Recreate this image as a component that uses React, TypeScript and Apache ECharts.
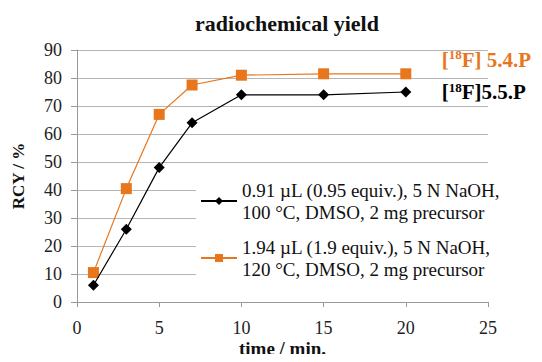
import React, { useEffect, useRef } from "react";
import * as echarts from "echarts";

const times = [1, 3, 5, 7, 10, 15, 20];
const blackValues = [6, 26, 48, 64, 74, 74, 75];
const orangeValues = [10.5, 40.5, 67, 77.5, 81, 81.5, 81.5];
const blackName = "0.91 µL (0.95 equiv.), 5 N NaOH,\n100 °C, DMSO, 2 mg precursor";
const orangeName = "1.94 µL (1.9 equiv.), 5 N NaOH,\n120 °C, DMSO, 2 mg precursor";
const xTicks = [0, 5, 10, 15, 20, 25];
const yTicks = [0, 10, 20, 30, 40, 50, 60, 70, 80, 90];

const FONT = "Liberation Serif, Times New Roman, DejaVu Serif, serif";

export default function App() {
  const ref = useRef<HTMLDivElement>(null);
  useEffect(() => {
    if (!ref.current) return;
    const chart = echarts.init(ref.current, null, { renderer: "svg" });
    const pair = (vals: number[]) => times.map((t, i) => [t, vals[i]]);
    chart.setOption({
      animation: false,
      backgroundColor: "#fff",
      textStyle: { fontFamily: FONT },
      title: {
        text: "radiochemical yield",
        left: 282,
        top: 7,
        textAlign: "center",
        textStyle: { fontFamily: FONT, fontSize: 22, fontWeight: "bold", color: "#111" },
      },
      grid: { left: 77, right: 54, top: 50, bottom: 60, containLabel: false, outerBoundsMode: "none" },
      legend: {
        orient: "vertical",
        left: 196,
        top: 177,
        itemWidth: 36,
        itemHeight: 10,
        itemGap: 13,
        backgroundColor: "#fff",
        padding: [2, 4, 2, 4],
        textStyle: { fontFamily: FONT, fontSize: 19, color: "#111", lineHeight: 22 },
        data: [blackName, orangeName],
      },
      xAxis: {
        type: "value",
        min: 0,
        max: 25,
        interval: 5,
        name: "time / min.",
        nameLocation: "middle",
        nameGap: 37,
        nameMoveOverlap: false,
        nameTextStyle: { fontFamily: FONT, fontSize: 19, fontWeight: "bold", color: "#111" },
        axisLine: { show: true, lineStyle: { color: "#999", width: 1 } },
        axisTick: { show: true, length: 5, inside: false, lineStyle: { color: "#999" } },
        axisLabel: {
          fontFamily: FONT,
          fontSize: 18,
          color: "#222",
          margin: 17,
          formatter: (v: number) => (xTicks.includes(v) ? String(v) : ""),
        },
        splitLine: { show: false },
      },
      yAxis: {
        type: "value",
        min: 0,
        max: 90,
        interval: 10,
        name: "RCY / %",
        nameLocation: "middle",
        nameGap: 50,
        nameMoveOverlap: false,
        nameRotate: 90,
        nameTextStyle: { fontFamily: FONT, fontSize: 17, fontWeight: "bold", color: "#111" },
        axisLine: { show: true, lineStyle: { color: "#999", width: 1 } },
        axisTick: { show: true, length: 6, lineStyle: { color: "#999" } },
        axisLabel: {
          fontFamily: FONT,
          fontSize: 18,
          color: "#222",
          margin: 15,
          formatter: (v: number) => (yTicks.includes(v) ? String(v) : ""),
        },
        splitLine: { show: true, lineStyle: { color: "#b5b5b5", width: 1 } },
      },
      series: [
        {
          name: blackName,
          type: "line",
          data: pair(blackValues),
          symbol: "diamond",
          symbolSize: 11,
          itemStyle: { color: "#000" },
          lineStyle: { color: "#000", width: 1.2 },
          endLabel: {
            show: true,
            offset: [28, 0],
            formatter: "{b|[}{s|18}{b|F]5.5.P}",
            rich: {
              b: { fontFamily: FONT, fontSize: 21, fontWeight: "bold", color: "#000" },
              s: { fontFamily: FONT, fontSize: 13, fontWeight: "bold", color: "#000", verticalAlign: "top", padding: [0, 0, 10, 0] },
            },
          },
          z: 3,
        },
        {
          name: orangeName,
          type: "line",
          data: pair(orangeValues),
          symbol: "rect",
          symbolSize: 11,
          itemStyle: { color: "#e8761c" },
          lineStyle: { color: "#e8761c", width: 1.2 },
          endLabel: {
            show: true,
            offset: [28, -14],
            formatter: "{b|[}{s|18}{b|F] 5.4.P}",
            rich: {
              b: { fontFamily: FONT, fontSize: 21, fontWeight: "bold", color: "#e8761c" },
              s: { fontFamily: FONT, fontSize: 13, fontWeight: "bold", color: "#e8761c", verticalAlign: "top", padding: [0, 0, 10, 0] },
            },
          },
          z: 2,
        },
      ],
    });
    return () => chart.dispose();
  }, []);
  return <div ref={ref} style={{ width: 542, height: 362, margin: -8 }} />;
}
